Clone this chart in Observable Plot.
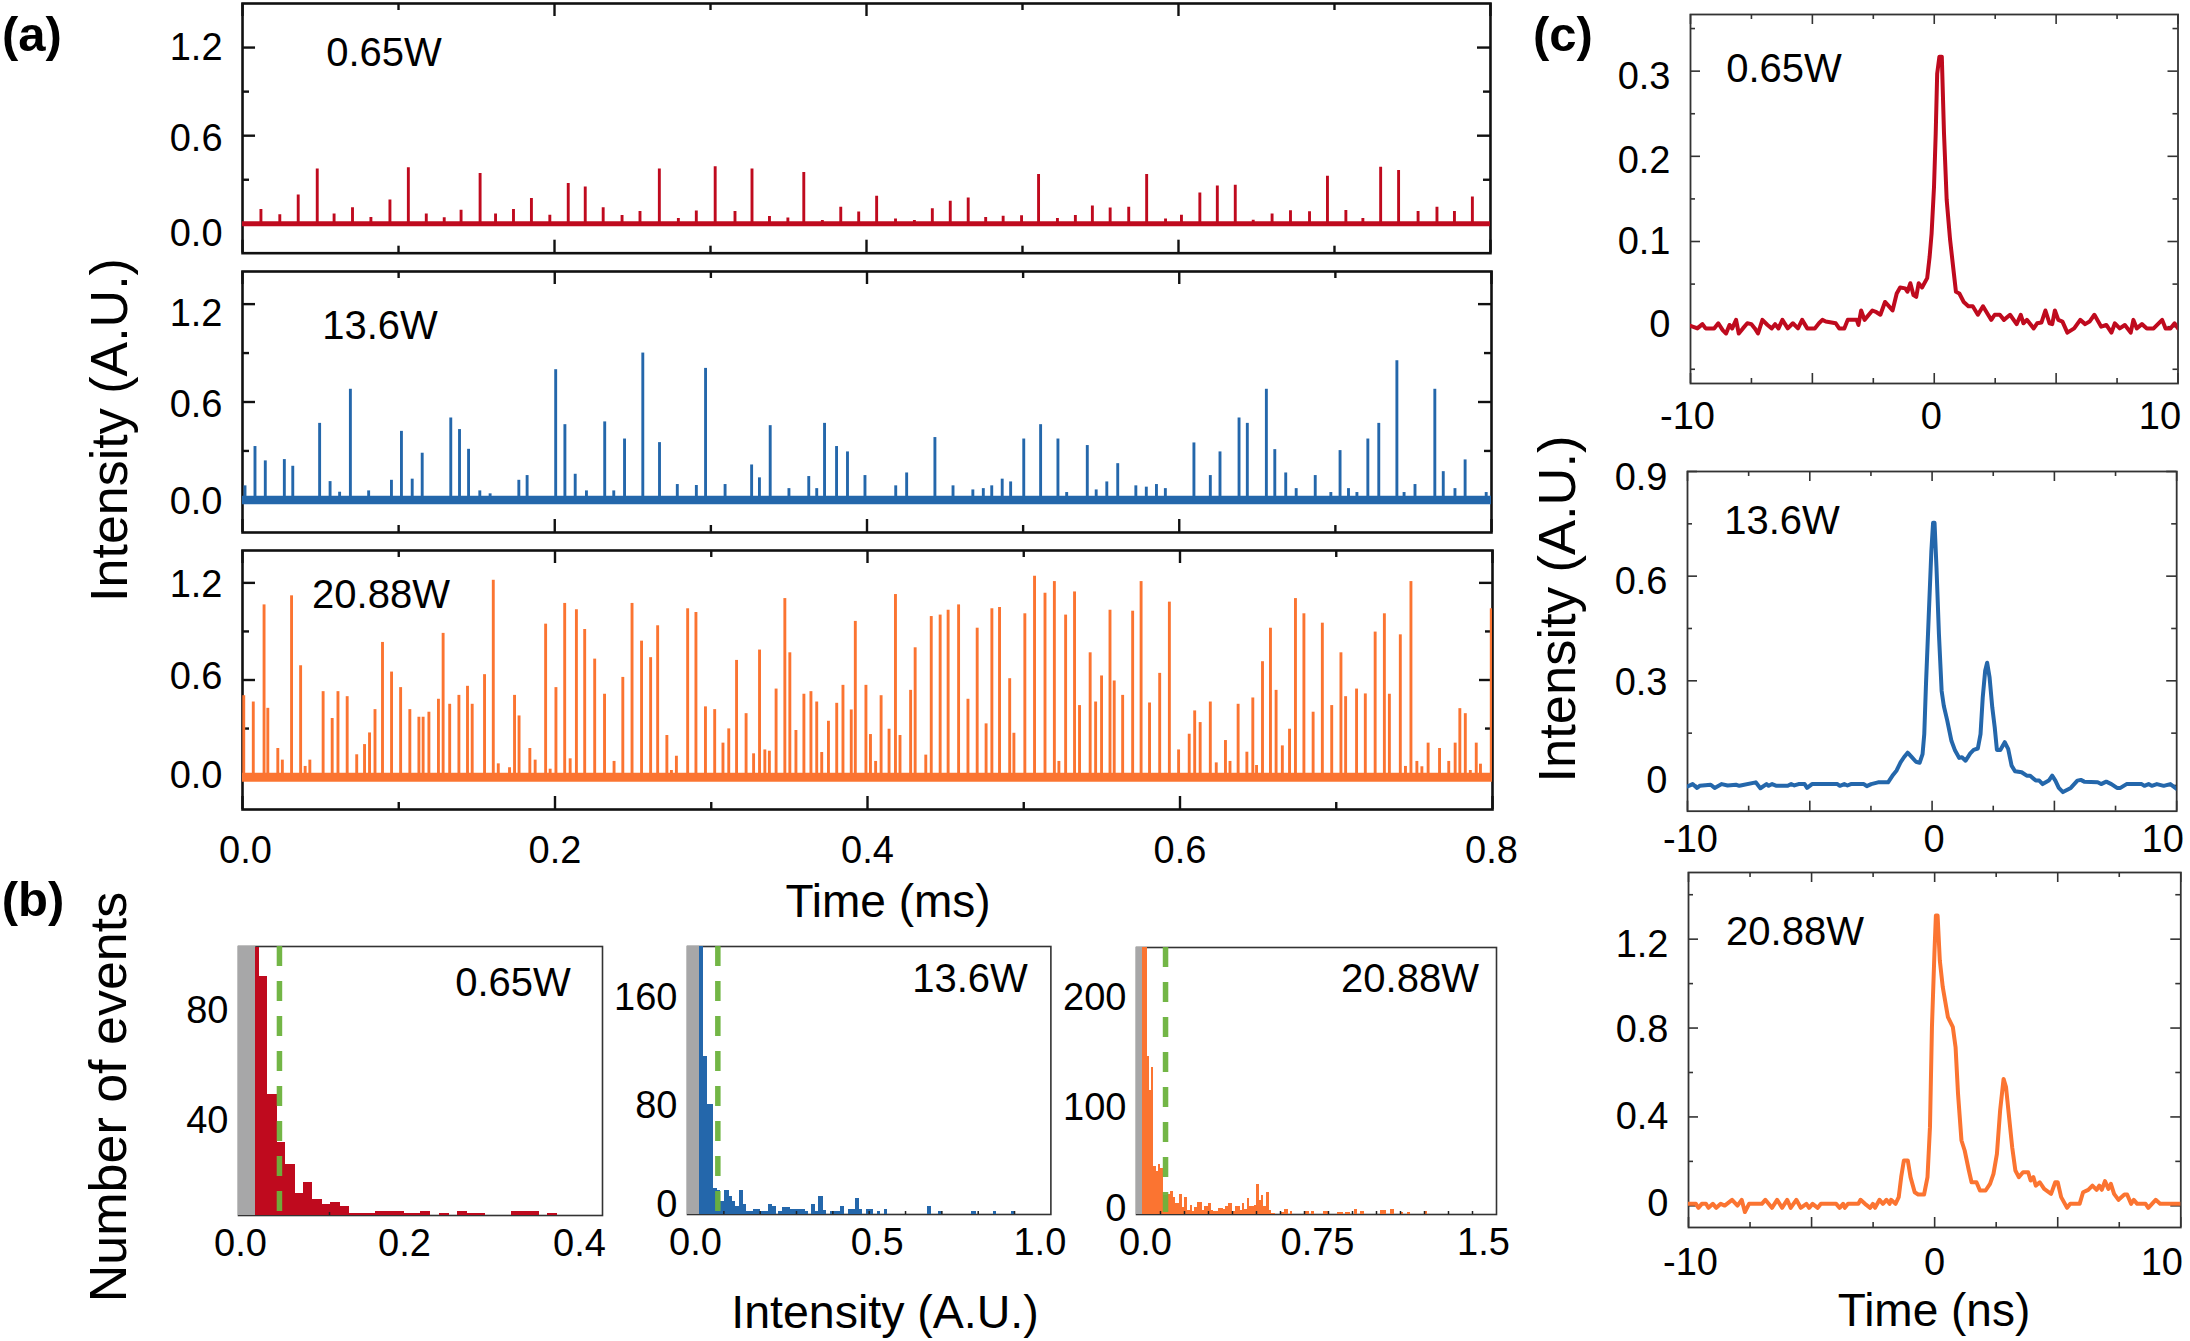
<!DOCTYPE html>
<html><head><meta charset="utf-8">
<script src="https://cdn.jsdelivr.net/npm/d3@7"></script>
<script src="https://cdn.jsdelivr.net/npm/@observablehq/plot@0.6"></script>
<style>
html,body{margin:0;padding:0;background:#fff;}
#fig{position:relative;width:2190px;height:1341px;overflow:hidden;background:#fff;font-family:"Liberation Sans",Arial,sans-serif;color:#000;}
#fig svg{position:absolute;background:transparent;overflow:visible;}
.t{position:absolute;line-height:1;white-space:nowrap;transform:translate(-50%,-50%);}
</style></head><body><div id="fig"></div>
<script>
// ---------- panel (a): pulse trains, time (ms) and peak intensity (A.U.)
const a1T=[.0118,.0239,.0357,.0479,.0587,.0705,.0823,.0945,.1063,.1178,.1293,.1401,.1523,.1622,.1737,.1852,.197,.2088,.2197,.2312,.2433,.2548,.2672,.2794,.2909,.303,.3157,.3266,.3378,.3496,.3598,.3717,.3835,.395,.4065,.4186,.4307,.4422,.4537,.4652,.4764,.4876,.4994,.5103,.5224,.5339,.5448,.5562,.5681,.5796,.5917,.6019,.6137,.6249,.6364,.6479,.66,.6718,.684,.6955,.7073,.7182,.7296,.7411,.7536,.7657,.7769,.7884];
const a1V=[.098,.062,.196,.374,.066,.109,.043,.162,.381,.066,.041,.093,.342,.066,.098,.173,.059,.274,.251,.109,.057,.084,.374,.036,.087,.388,.084,.374,.05,.039,.349,.023,.112,.08,.187,.032,.023,.103,.153,.176,.043,.052,.055,.335,.036,.057,.121,.107,.112,.335,.032,.059,.21,.258,.262,.025,.066,.089,.082,.324,.091,.036,.385,.363,.084,.112,.084,.182];
const a2T=[.0016,.008,.0146,.0268,.0322,.0494,.0561,.0622,.0691,.0808,.0954,.1018,.1087,.1151,.1334,.139,.1448,.152,.1586,.177,.1823,.2006,.2065,.2131,.2203,.232,.2378,.2447,.2564,.2671,.2785,.2907,.2966,.3091,.3261,.3311,.338,.35,.3627,.3678,.3728,.3805,.3875,.3987,.4184,.4254,.4435,.4551,.4678,.4745,.4799,.4866,.492,.5004,.5112,.5223,.5279,.5411,.5468,.5536,.5606,.5722,.5789,.5854,.5911,.6094,.6199,.6261,.6383,.6436,.6558,.6612,.6682,.6749,.6871,.6971,.703,.7084,.7138,.7208,.7278,.7394,.744,.751,.7637,.7691,.7766,.7831,.7966];
const a2V=[.086,.327,.239,.247,.206,.469,.112,.047,.678,.055,.12,.42,.127,.286,.502,.431,.31,.055,.037,.12,.149,.798,.461,.157,.055,.478,.055,.373,.9,.351,.094,.088,.806,.094,.214,.135,.455,.069,.143,.069,.469,.327,.294,.149,.086,.165,.382,.086,.061,.069,.086,.127,.11,.373,.461,.373,.045,.333,.061,.11,.222,.086,.078,.094,.069,.349,.149,.294,.502,.469,.678,.308,.165,.069,.149,.045,.302,.069,.045,.373,.469,.853,.045,.094,.678,.173,.069,.245,.045];
const a3T=[.0008,.0069,.0138,.0162,.0226,.0255,.0314,.0372,.0401,.0431,.0516,.0574,.0611,.067,.0731,.0781,.0813,.0848,.0896,.0954,.1012,.1071,.1129,.1156,.1193,.1254,.1284,.1326,.1385,.144,.147,.1549,.1605,.1637,.1709,.1741,.177,.1839,.1873,.194,.1969,.2006,.2062,.2097,.2137,.219,.2254,.2317,.2378,.2434,.2493,.2554,.2612,.2657,.2716,.2745,.2777,.2849,.2902,.2963,.3022,.3075,.3112,.3162,.3223,.3271,.3309,.3343,.3372,.3415,.3471,.3503,.3542,.3593,.3638,.3675,.3707,.375,.3803,.3843,.3896,.3922,.399,.4019,.4052,.4087,.4138,.4179,.4208,.4276,.4305,.4373,.4408,.4465,.4516,.4583,.4643,.4702,.4759,.4796,.4845,.491,.4937,.5007,.5069,.5136,.5196,.5225,.5268,.5325,.5357,.5425,.546,.5498,.5552,.5579,.5633,.5697,.5751,.5805,.587,.5932,.5991,.6059,.6094,.6129,.6194,.6232,.6291,.632,.6372,.6428,.6466,.649,.6528,.6579,.6615,.6655,.6701,.6739,.6793,.6852,.6911,.6971,.703,.706,.713,.7186,.7249,.7308,.734,.741,.7443,.7478,.7516,.7548,.7588,.7661,.772,.7761,.7791,.7826,.7858,.7896,.7923,.7992];
const a3V=[.503,.464,1.064,.425,.177,.105,1.12,.688,.066,.105,.528,.362,.528,.497,.138,.201,.273,.417,.832,.649,.553,.417,.37,.37,.401,.481,.888,.45,.505,.561,.45,.633,1.216,.082,.058,.505,.378,.177,.105,.945,.049,.553,1.073,.113,1.034,.912,.729,.512,.097,.616,1.073,.84,.738,.935,.257,.041,.129,1.04,1.017,.434,.417,.21,.298,.721,.392,.144,.785,.168,.16,.544,1.103,.768,.288,.512,.528,.464,.152,.345,.456,.567,.415,.962,.567,.263,.097,.503,.296,1.128,.257,.536,.799,.136,.992,1.001,1.031,1.064,.481,.92,.329,1.04,1.048,.608,.271,1.009,1.241,1.136,1.208,.097,1.001,1.144,.442,.768,.464,.625,1.031,.594,.505,1.025,1.208,.458,.641,1.081,.168,.265,.409,.337,.464,.088,.226,.097,.45,.154,.489,.072,.713,.92,.536,.193,.296,1.103,1.009,.401,.951,.442,.768,.497,.544,.514,.896,1.009,.512,.879,.066,1.208,.097,.064,.21,.177,.097,.21,.423,.392,.041,.21,.08,1.04];

// ---------- panel (b): histograms, bin start, bin end, number of events
const b1Start=[.019,.0227,.0319,.0429,.052,.0623,.0714,.0817,.0919,.1015,.1117,.1216,.1509,.1821,.2004,.2205,.2407,.2516,.3,.3396];
const b1End=[.0227,.0319,.0429,.052,.0623,.0714,.0817,.0919,.1015,.1117,.1216,.1509,.1821,.2004,.2114,.2315,.2516,.2718,.3304,.3505];
const b1Count=[102.8,92.5,49.5,32.1,24,13.6,17.6,11.2,9.3,10.3,8.8,6.1,6.8,6.1,6.9,6.2,6.9,6.1,6.8,6.2];
const b2Start=[.033,.0431,.0541,.0716,.0826,.0917,.1028,.1147,.1239,.133,.1422,.1541,.1624,.1817,.2018,.222,.2339,.2514,.2615,.2835,.3239,.3413,.3532,.3615,.3734,.3927,.4037,.4202,.4431,.4615,.4725,.4917,.522,.5413,.6615,.6917,.7817,.8422,.8908];
const b2End=[.0431,.0541,.0716,.0826,.0917,.1028,.1147,.1239,.133,.1422,.1541,.1624,.1817,.2018,.222,.2339,.244,.2615,.2835,.3239,.333,.3532,.3615,.3734,.3835,.4037,.4202,.4312,.4615,.4725,.4817,.5119,.5321,.5514,.6725,.7009,.7963,.8495,.9018];
const b2Count=[199.5,116.8,80.5,17.5,15.8,7.5,15.8,11.3,7.5,4,15.8,5.5,0,1.8,0,5.5,3.8,0,3.5,1.8,0,5.5,0,11.5,1.3,0,0,3.8,1.8,9.8,1.8,1.8,0,1.8,3.8,0,0,0,0];
const b3Start=[.025,.0444,.0528,.0625,.0722,.0819,.0917,.1014,.1111,.1306,.1403,.1528,.1625,.1806,.1931,.2014,.2139,.225,.2347,.2431,.2528,.2625,.2736,.2833,.3014,.3111,.3222,.3417,.3611,.3722,.3833,.4014,.4125,.4333,.4417,.4514,.4611,.4708,.4903,.5,.5111,.5208,.5306,.5403,.5528,.5625,.6,.6167,.6417,.7,.7278,.7778,.8361,.8708,.9097,.9333,1.0167,1.0583,1.1,1.1278,1.2];
const b3End=[.0444,.0528,.0625,.0722,.0819,.0917,.1014,.1111,.1306,.1403,.1528,.1625,.1806,.1931,.2014,.2139,.225,.2347,.2431,.2528,.2625,.2736,.2833,.3014,.3111,.3222,.3417,.3611,.3722,.3833,.4014,.4125,.4333,.4417,.4514,.4611,.4708,.4903,.5,.5111,.5208,.5306,.5403,.5528,.5625,.5792,.6167,.6333,.6514,.7194,.7417,.8014,.8639,.8917,.9222,.95,1.0417,1.075,1.1139,1.1417,1.2139];
const b3Count=[251,147.8,115.7,137.7,44,39.6,46.5,42.8,16.7,18.2,20.8,15.1,9.4,18.2,5.7,15.1,3.1,7.2,1.6,5.7,10.4,10.4,3.1,6.9,9.4,3.1,1.9,4.4,3.8,6.3,9.4,1.6,6.3,3.1,9.4,4.1,13.8,6.3,7.2,27.7,12.6,16.7,6.9,19.5,2.5,.3,.9,3.8,1.6,1.9,1.9,1.9,.9,.9,3.8,1.9,2.5,3.8,.9,.9,1.9];
const bThreshold=[.045,.0835,.121];
const bNoiseFloor=[.019,.033,.025];

// ---------- panel (c): single pulse profiles, time (ns) and intensity (A.U.)
const c1T=[-10,-9.72,-9.51,-9.38,-9.03,-8.86,-8.68,-8.54,-8.4,-8.29,-8.13,-8.02,-7.85,-7.67,-7.5,-7.36,-7.23,-7.05,-6.84,-6.67,-6.53,-6.39,-6.23,-6.01,-5.8,-5.59,-5.42,-5.21,-4.9,-4.73,-4.59,-4.45,-4.04,-3.9,-3.69,-3.55,-3.18,-3.11,-3,-2.86,-2.54,-2.37,-2.21,-2.02,-1.89,-1.71,-1.54,-1.4,-1.19,-1.1,-.98,-.85,-.74,-.64,-.5,-.29,-.19,-.11,-.01,.06,.12,.21,.31,.4,.51,.65,.76,.89,1.03,1.21,1.4,1.58,1.79,2,2.21,2.34,2.48,2.69,2.86,3.11,3.38,3.55,3.66,3.8,4.08,4.22,4.4,4.56,4.73,4.84,4.95,5.09,5.26,5.46,5.74,5.99,6.19,6.37,6.57,6.85,7.06,7.27,7.41,7.61,7.82,8.06,8.17,8.31,8.52,8.72,9,9.35,9.49,9.69,9.86,10];
const c1V=[.001,-.002,.003,-.002,-.002,.004,-.004,-.008,.002,-.002,.008,-.008,-.002,.004,.003,-.002,-.008,.008,.002,-.002,.003,-.002,.008,-.002,.004,-.002,.008,-.002,-.002,.004,.008,.006,.004,-.002,-.002,.008,.008,.002,.019,.008,.019,.017,.014,.029,.025,.019,.039,.046,.045,.041,.051,.037,.035,.051,.046,.057,.082,.109,.164,.227,.297,.317,.317,.227,.149,.102,.074,.041,.039,.029,.024,.024,.014,.024,.014,.008,.014,.014,.008,.014,.003,.014,.004,.008,-.002,.004,.005,.019,.004,.003,.019,.008,.006,-.007,-.002,.008,.003,.006,.014,0,.002,-.007,.004,-.002,.002,-.007,.008,-.002,.003,-.002,-.002,.008,-.002,-.002,.004,-.002];
const c2T=[-10,-9.79,-9.61,-9.5,-9.05,-8.89,-8.6,-8.36,-8.02,-7.88,-7.21,-7.02,-6.77,-6.68,-6.54,-6.36,-5.9,-5.76,-5.63,-5.46,-5.21,-5.11,-4.91,-3.87,-3.77,-3.59,-3.46,-3.32,-2.79,-2.67,-2.49,-2.21,-1.8,-1.59,-1.45,-1.29,-1.15,-1,-.83,-.66,-.51,-.39,-.32,-.25,-.14,-.03,.04,.1,.18,.28,.39,.48,.62,.79,.94,1.11,1.22,1.37,1.56,1.7,1.87,1.98,2.07,2.17,2.25,2.35,2.46,2.56,2.65,2.79,2.97,3.11,3.25,3.39,3.66,3.87,4.01,4.24,4.38,4.52,4.77,4.91,5.04,5.18,5.35,5.67,5.94,6.08,6.22,6.77,6.91,7.12,7.33,7.56,7.7,7.95,8.57,8.68,8.85,8.98,9.19,9.47,9.74,10];
const c2V=[-.003,.004,-.007,-.001,.002,-.007,.004,0,.002,-.001,.009,-.008,.004,-.001,.004,-.001,-.001,.004,0,.004,.004,-.007,.004,.004,-.001,.004,0,.004,.004,-.002,.004,.009,.009,.031,.043,.066,.081,.094,.081,.068,.065,.09,.147,.29,.481,.672,.753,.753,.624,.433,.271,.228,.186,.128,.1,.079,.081,.071,.092,.102,.106,.147,.252,.329,.352,.31,.224,.167,.102,.102,.124,.105,.057,.041,.038,.028,.028,.014,.014,.004,.014,.028,.014,-.007,-.019,-.007,.014,.016,.011,.009,.004,.011,.004,-.007,-.007,.004,.004,-.001,.004,-.001,.004,-.001,.004,-.01];
const c3T=[-10,-9.7,-9.6,-9.46,-9.29,-9.19,-9.01,-8.87,-8.69,-8.53,-8.23,-8.01,-7.84,-7.71,-7.54,-7.02,-6.88,-6.61,-6.4,-6.2,-5.99,-5.85,-5.62,-5.44,-5.21,-5.1,-4.96,-4.75,-4.62,-4,-3.86,-3.72,-3.65,-3.52,-3.1,-3.01,-2.83,-2.62,-2.51,-2.42,-2.24,-2.1,-1.96,-1.83,-1.77,-1.59,-1.46,-1.36,-1.25,-1.09,-.98,-.81,-.67,-.43,-.29,-.19,-.11,-.01,.05,.12,.21,.33,.54,.74,.85,.95,1.09,1.22,1.39,1.5,1.7,1.84,2.07,2.25,2.39,2.53,2.66,2.8,2.9,3.01,3.15,3.28,3.42,3.59,3.8,3.9,4.01,4.11,4.27,4.45,4.73,4.9,5,5.14,5.38,5.51,5.89,6.03,6.24,6.41,6.58,6.69,6.79,6.92,7.06,7.16,7.29,7.47,7.71,7.82,7.98,8.09,8.23,8.57,8.68,8.98,9.16,10];
const c3V=[.009,.009,-.009,.009,.009,-.009,.009,-.009,.009,.001,.027,.001,.027,-.028,.009,.009,.027,-.009,.027,-.009,.027,-.009,.027,-.009,.009,-.009,.009,-.009,.009,.009,-.009,.009,-.009,.009,.009,.027,.009,-.009,.009,-.009,.027,.009,.027,.009,.027,.009,.039,.129,.204,.204,.129,.061,.051,.051,.129,.354,.804,1.134,1.306,1.306,1.104,.984,.849,.804,.714,.504,.294,.249,.159,.106,.106,.069,.069,.099,.144,.234,.429,.571,.534,.414,.264,.159,.129,.151,.151,.114,.129,.091,.106,.076,.054,.106,.106,.039,-.009,.009,.009,.061,.072,.091,.072,.091,.072,.111,.076,.099,.054,.027,.051,.051,.009,.027,.009,.009,-.009,.027,.009,.009];

// ---------- tick values and tick labels
const aXMajor=[0,.2,.4,.6,.8], aXMinor=[.1,.3,.5,.7];
const aXLabels=["0.0","0.2","0.4","0.6","0.8"];
const aYMajor=[0,.6,1.2], aYMinor=[.3,.9], aYLabels=["0.0","0.6","1.2"];
const cXMajor=[-10,-5,0,5,10], cXMinor=[-7.5,-2.5,2.5,7.5];
const cXLabels=["-10","0","10"], cXLabelValues=[-10,0,10];

const RED="#bf0a1e", BLUE="#2467ab", ORANGE="#fb7431", GREEN="#6bb23c", GRAY="#a7a7a8";
const fig=document.getElementById("fig");
const FONT='"Liberation Sans",Arial,sans-serif';
const M={l:90,r:50,t:2,b:60};

function text(str,cx,cy,size,extra={}){
  const d=document.createElement("div");d.className="t";d.textContent=str;
  d.style.left=cx+"px";d.style.top=cy+"px";d.style.fontSize=size+"px";
  if(extra.bold)d.style.fontWeight="bold";
  if(extra.rotate)d.style.transform="translate(-50%,-50%) rotate(-90deg)";
  fig.appendChild(d);
}
// one axis mark per label, so a label can be nudged like in the source figure
const xLabelMarks=(vals,labs,nudge,pad,size)=>vals.map((v,i)=>Plot.axisX({ticks:[v],tickFormat:()=>labs[i],tickSize:0,tickPadding:pad,lineAnchor:"middle",dx:nudge[i],label:null,fontSize:size,anchor:"bottom"}));
const yLabelMarks=(vals,labs,nudge,pad,size)=>vals.map((v,i)=>Plot.axisY({ticks:[v],tickFormat:()=>labs[i],tickSize:0,tickPadding:pad,dy:nudge[i],label:null,fontSize:size,anchor:"left"}));

function panel(box,xDom,yDom,marks){
  const [x0,y0,x1,y1]=box;
  const w=x1-x0,h=y1-y0;
  const svg=Plot.plot({
    width:w+M.l+M.r,height:h+M.t+M.b,
    marginLeft:M.l,marginRight:M.r,marginTop:M.t,marginBottom:M.b,
    x:{domain:xDom,axis:null},y:{domain:yDom,axis:null},
    style:{fontFamily:FONT,background:"transparent",color:"#000"},
    marks
  });
  svg.style.left=(x0-M.l)+"px";svg.style.top=(y0-M.t)+"px";
  fig.appendChild(svg);
}
function ticks(box,xMaj,xMin,yMaj,yMin,lenMaj,lenMin,sw,color){
  const W=box[2]-box[0],H=box[3]-box[1];
  const o={stroke:color,strokeWidth:sw};
  const xt=(v,l)=>[Plot.ruleX(v,{...o,insetBottom:H-l}),Plot.ruleX(v,{...o,insetTop:H-l})];
  const yt=(v,l)=>[Plot.ruleY(v,{...o,insetRight:W-l}),Plot.ruleY(v,{...o,insetLeft:W-l})];
  return [...xt(xMaj,lenMaj),...xt(xMin,lenMin),...yt(yMaj,lenMaj),...yt(yMin,lenMin)];
}

// panel (a)
function aPanel(box,yDom,T,V,color,band,labNudge,withX){
  panel(box,[0,.8],yDom,[
    ...ticks(box,aXMajor,aXMinor,aYMajor,aYMinor,13,7,2.4,"#111"),
    Plot.frame({stroke:"#111",strokeWidth:2.6}),
    Plot.ruleY([0],{stroke:color,strokeWidth:band}),
    Plot.ruleX(T,{x:T,y1:0,y2:V,stroke:color,strokeWidth:2.9,clip:true}),
    ...yLabelMarks(aYMajor,aYLabels,labNudge,20,38),
    ...(withX?xLabelMarks(aXMajor,aXLabels,[3,0,0,0,-1],41,38):[])
  ]);
}
aPanel([242,3,1490,252.7],[-.2,1.5],a1T,a1V,RED,5,[10,3,0],false);
aPanel([242,271,1491,532],[-.2,1.4],a2T,a2V,BLUE,8.5,[2,3,10],false);
aPanel([242,550,1492,809],[-.2,1.4],a3T,a3V,ORANGE,9,[-1,-3,2],true);

// panel (b)
function bPanel(box,xDom,yDom,S,E,C,color,thr,floor,xv,xl,xn,yv,yl,yn,inner){
  const lo=yDom[0];
  panel(box,xDom,yDom,[
    Plot.frame({stroke:"#333",strokeWidth:1.6}),
    Plot.rect([0],{x1:xDom[0],x2:floor,y1:yDom[0],y2:yDom[1],fill:GRAY}),
    Plot.rect(C,{x1:S,x2:E,y1:lo,y2:C,fill:color,clip:true,shapeRendering:"crispEdges"}),
    Plot.ruleX(inner,{stroke:"#222",strokeWidth:1.5,insetTop:box[3]-box[1]-3}),
    Plot.ruleX([thr],{stroke:GREEN,strokeWidth:5.5,strokeDasharray:"20,15",strokeOpacity:.95}),
    ...xLabelMarks(xv,xl,xn,28,38),
    ...yLabelMarks(yv,yl,yn,10,38)
  ]);
}
bPanel([237.7,946,601.7,1215],[0,.4],[5.45,103.3],b1Start,b1End,b1Count,RED,bThreshold[0],bNoiseFloor[0],
  [0,.2,.4],["0.0","0.2","0.4"],[2,-16,-23],[40,80],["40","80"],[0,0],[.1]);
bPanel([687.3,946,1050.7,1214],[0,1],[-2,199.5],b2Start,b2End,b2Count,BLUE,bThreshold[1],bNoiseFloor[1],
  [0,.5,1],["0.0","0.5","1.0"],[8,8,-11],[0,80,160],["0","80","160"],[-7,0,-1],[.1,.2,.3,.4,.5,.6,.7,.8,.9]);
bPanel([1136,946.7,1496,1213.7],[0,1.5],[-1,251],b3Start,b3End,b3Count,ORANGE,bThreshold[2],bNoiseFloor[2],
  [0,.75,1.5],["0.0","0.75","1.5"],[9,1,-13],[0,100,200],["0","100","200"],[-5,0,-4],[.1,.2,.3,.4,.5,.6,.7,.8,.9,1,1.1,1.2,1.3,1.4]);

// panel (c)
function cPanel(box,yDom,T,V,color,yMaj,yMin,yLab,yn,xn,xPad){
  panel(box,[-10,10],yDom,[
    ...ticks(box,cXMajor,cXMinor,yMaj,yMin,10,5,1.6,"#333"),
    Plot.frame({stroke:"#333",strokeWidth:1.8}),
    Plot.line(V,{x:T,y:V,stroke:color,strokeWidth:4,strokeLinejoin:"round",curve:"linear",clip:true}),
    ...yLabelMarks(yMaj,yLab,yn,20,38),
    ...xLabelMarks(cXLabelValues,cXLabels,xn,xPad,38)
  ]);
}
cPanel([1690,14.3,2177.5,383.3],[-.0667,.3665],c1T,c1V,RED,[0,.1,.2,.3],[-.05,.05,.15,.25,.35],["0","0.1","0.2","0.3"],[-2,0,5,6],[-3,-3,-18],33);
cPanel([1687.4,471,2176.6,810.7],[-.0737,.9],c2T,c2V,BLUE,[0,.3,.6,.9],[.15,.45,.75],["0","0.3","0.6","0.9"],[-5,2,6,6],[3,2,-14],29);
cPanel([1687.7,872,2180,1227],[-.0975,1.5],c3T,c3V,ORANGE,[0,.4,.8,1.2],[.2,.6,1,1.4],["0","0.4","0.8","1.2"],[-2,0,2,6],[2,0,-19],35);

// text
text("(a)",32,34,49,{bold:true});
text("(b)",33,899,49,{bold:true});
text("(c)",1563,34,49,{bold:true});
text("0.65W",384,52,40);text("13.6W",380,325,40);text("20.88W",381,594,40);
text("0.65W",513,982,40);text("13.6W",970,978,40);text("20.88W",1410,978,40);
text("0.65W",1784,68,40);text("13.6W",1782,520,40);text("20.88W",1795,931,40);
text("Intensity (A.U.)",109,430,52,{rotate:true});
text("Intensity (A.U.)",1557,609,52.5,{rotate:true});
text("Number of events",108,1097,52,{rotate:true});
text("Time (ms)",888,901,46);
text("Intensity (A.U.)",885,1312,46.5);
text("Time (ns)",1934,1310,46);
</script></body></html>
